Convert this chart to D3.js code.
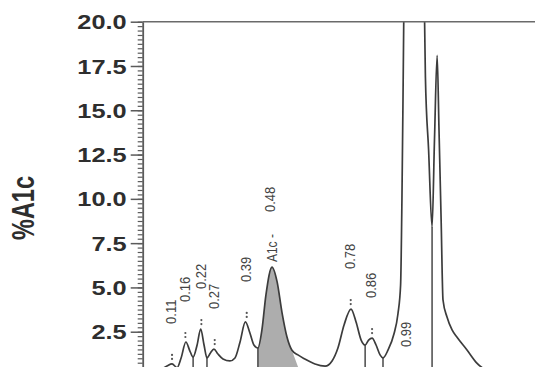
<!DOCTYPE html>
<html><head><meta charset="utf-8">
<script src="https://cdn.jsdelivr.net/npm/d3@7"></script>
<style>html,body{margin:0;padding:0;background:#fff;}svg{display:block;}</style>
</head><body>
<svg id="chart" width="535" height="367"></svg>
<script>
// ---- data (retention time in min, %A1c) ----
const curveTime = [0.000,0.027,0.065,0.091,0.110,0.129,0.144,0.162,0.177,0.189,0.204,0.2175,0.230,0.241,0.254,0.267,0.282,0.301,0.327,0.346,0.365,0.385,0.402,0.417,0.432,0.447,0.462,0.485,0.504,0.522,0.541,0.559,0.582,0.608,0.646,0.684,0.710,0.732,0.755,0.781,0.800,0.819,0.834,0.847,0.860,0.875,0.890,0.901,0.920,0.942,0.957,0.967,0.972,0.976,0.980,0.995,1.013,1.032,1.050,1.057,1.060,1.072,1.085,1.094,1.104,1.111,1.119,1.126,1.141,1.160,1.178,1.216,1.253,1.302,1.358,1.471];
const curveValue = [0.05,0.17,0.34,0.56,0.68,0.48,1.02,1.92,1.41,1.07,1.75,2.65,1.75,1.02,1.30,1.52,1.24,0.96,0.85,1.02,1.92,3.05,2.43,1.75,1.58,2.60,4.57,6.15,5.31,3.61,2.20,1.47,1.19,0.96,0.68,0.56,0.85,1.58,2.88,3.78,3.05,2.03,1.75,2.03,2.14,1.75,1.19,1.02,1.47,2.37,3.50,5.14,9.94,15.6,22,45,60,45,24,20,16.9,12.76,8.41,13.3,18.1,13.9,8.8,4.29,3.33,2.60,2.20,1.47,0.73,0.23,0.06,0.0];
const peakTimes   = [0.11,0.16,0.22,0.27,0.39,0.48,0.78,0.86,0.99];
const peakLabels  = ["0.11","0.16","0.22","0.27","0.39","0.48","0.78","0.86","0.99"];
const peakHeights = [0.68,1.92,2.65,1.52,3.05,6.15,3.78,2.14,60];
const namedPeak = {time:0.48, name:"A1c -"};
const dropLineTimes = [0.189,0.241,0.432,0.834,0.901,1.085];
const shadedStart = 0.432, shadedCurveEnd = 0.559, shadedEnd = 0.595;
const yTicks = [0,2.5,5,7.5,10,12.5,15,17.5,20];
const yTitle = "%A1c";

// ---- layout ----
const W = 535, H = 367;
const svg = d3.select("#chart");
svg.append("rect").attr("width",W).attr("height",H).attr("fill","#fff");
const x = d3.scaleLinear().domain([0,1.5]).range([142.7, 142.7+1.5*266.7]);
const y = d3.scaleLinear().domain([0,20]).range([376, 21.7]);
const ink = "#3c3c3c", axisInk = "#5a5a5a";
const sx = 1.3;

svg.append("defs").append("clipPath").attr("id","plot")
  .append("rect").attr("x",x(0)).attr("y",y(20)).attr("width",W).attr("height",H);

const pts = curveTime.map((t,i)=>({t, v:curveValue[i]}));
const plot = svg.append("g").attr("clip-path","url(#plot)");

// shaded A1c area
const shade = pts.filter(p=>p.t>=shadedStart && p.t<=shadedCurveEnd).concat([{t:shadedEnd,v:0}]);
plot.append("path").datum(shade)
  .attr("d", d3.area().curve(d3.curveMonotoneX).x(d=>x(d.t)).y0(y(0)).y1(d=>y(d.v)))
  .attr("fill","#adadad").attr("stroke","none");

// drop lines
plot.selectAll("line.drop").data(dropLineTimes).enter().append("line")
  .attr("class","drop")
  .attr("x1",d=>x(d)).attr("x2",d=>x(d))
  .attr("y1",d=>{const i=d3.bisector(p=>p.t).center(pts,d);return y(pts[i].v);})
  .attr("y2",y(0))
  .attr("stroke",ink).attr("stroke-width",1.4);

// chromatogram
plot.append("path").datum(pts)
  .attr("d", d3.line().curve(d3.curveMonotoneX).x(d=>x(d.t)).y(d=>y(d.v)))
  .attr("fill","none").attr("stroke",ink).attr("stroke-width",1.7).attr("stroke-linejoin","round");

// top frame line
svg.append("line").attr("x1",x(0)).attr("x2",W).attr("y1",y(20)).attr("y2",y(20))
  .attr("stroke","#6a6a6a").attr("stroke-width",1.6);

// axis
const minor = svg.append("g").attr("transform",`translate(${x(0)},0)`)
  .call(d3.axisLeft(y).tickValues(d3.range(0,20.001,0.25)).tickSize(5).tickFormat(""));
minor.select(".domain").remove();
minor.selectAll("line").attr("stroke",axisInk).attr("stroke-width",1.2);

const major = svg.append("g").attr("transform",`translate(${x(0)},0)`)
  .call(d3.axisLeft(y).tickValues(yTicks).tickSize(12).tickSizeOuter(0).tickFormat(d3.format(".1f")));
major.select(".domain").attr("stroke",axisInk).attr("stroke-width",1.8);
major.selectAll("line").attr("stroke",axisInk).attr("stroke-width",1.5);
major.selectAll("text")
  .attr("x",-16/sx).attr("dy","0.36em")
  .attr("transform",`scale(${sx},1)`)
  .attr("fill","#2e2e2e")
  .style("font-family","'Liberation Sans', Arial, sans-serif")
  .style("font-size","19.5px").style("font-weight","bold").style("text-anchor","end");

// y title
svg.append("text").text(yTitle)
  .attr("transform",`translate(23,208) scale(${sx},1) rotate(-90)`)
  .attr("text-anchor","middle").attr("dominant-baseline","central")
  .attr("fill","#2e2e2e")
  .style("font-family","'Liberation Sans', Arial, sans-serif")
  .style("font-size","23.5px").style("font-weight","bold");

// peak markers and labels
const lblFont = "'Liberation Sans', Arial, sans-serif";
const peaks = peakTimes.map((t,i)=>({t, label:peakLabels[i], v:peakHeights[i]}));
peaks.forEach(p=>{
  const px = x(p.t);
  const off = p.v > 20;
  const isNamed = p.t === namedPeak.time;
  const py = y(p.v);
  if(!off && !isNamed){
    [5,9].forEach(o=>svg.append("circle").attr("cx",px).attr("cy",py-o).attr("r",1.1).attr("fill","#555"));
  }
  let base;
  if(off) base = y(0) - 29;
  else if(isNamed) base = py - 55;
  else base = py - 40;
  svg.append("text").text(p.label)
    .attr("transform",`translate(${px-1},${base}) scale(1.15,1) rotate(-90)`)
    .attr("dominant-baseline","central").attr("text-anchor","start")
    .attr("fill","#444").style("font-family",lblFont).style("font-size","13px");
  if(isNamed){
    svg.append("text").text(namedPeak.name)
      .attr("transform",`translate(${px+1},${py-5}) scale(1.15,1) rotate(-90)`)
      .attr("dominant-baseline","central").attr("text-anchor","start")
      .attr("fill","#444").style("font-family",lblFont).style("font-size","12px");
  }
});
</script>
</body></html>
